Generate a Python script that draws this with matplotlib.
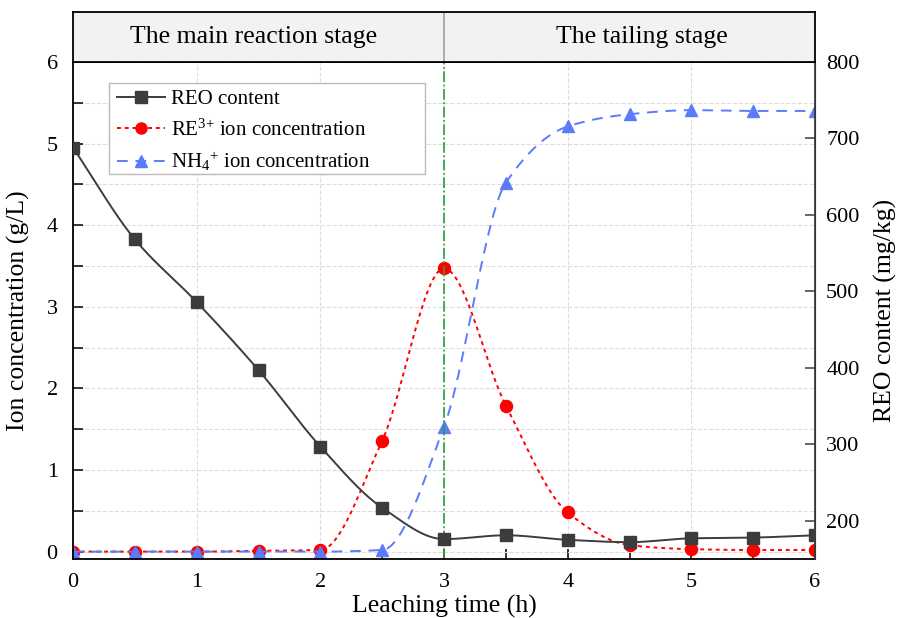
import numpy as np
import matplotlib
matplotlib.use("Agg")
import matplotlib.pyplot as plt
from matplotlib.ticker import MultipleLocator
from matplotlib.patches import Rectangle

plt.rcParams['font.family'] = ['Liberation Serif', 'DejaVu Serif']
plt.rcParams['mathtext.fontset'] = 'custom'
plt.rcParams['mathtext.rm'] = 'Liberation Serif'
plt.rcParams['mathtext.it'] = 'Liberation Serif:italic'

# data
time = [0, 0.5, 1, 1.5, 2, 2.5, 3, 3.5, 4, 4.5, 5, 5.5, 6]
reo = [688, 568, 486, 397, 297, 217, 176, 181, 175, 172, 177, 178, 181]     # mg/kg
re3 = [0, 0, 0, 0.01, 0.02, 1.36, 3.47, 1.79, 0.48, 0.08, 0.03, 0.02, 0.02]  # g/L
nh4 = [0, 0, 0, 0, 0, 0.02, 1.53, 4.52, 5.21, 5.36, 5.41, 5.40, 5.40]       # g/L
stages = ["The main reaction stage", "The tailing stage"]


def smooth(x, y, n=400):
    # monotone cubic (pchip) line through the points, like the origin spline
    x = np.asarray(x, float)
    y = np.asarray(y, float)
    h = np.diff(x)
    d = np.diff(y) / h
    m = np.zeros_like(y)
    for k in range(1, len(x) - 1):
        if d[k - 1] * d[k] > 0:
            w1 = 2 * h[k] + h[k - 1]
            w2 = h[k] + 2 * h[k - 1]
            m[k] = (w1 + w2) / (w1 / d[k - 1] + w2 / d[k])
    m[0] = d[0]
    m[-1] = d[-1]
    xs = np.linspace(x[0], x[-1], n)
    i = np.clip(np.searchsorted(x, xs) - 1, 0, len(x) - 2)
    t = (xs - x[i]) / h[i]
    h00 = 2 * t**3 - 3 * t**2 + 1
    h10 = t**3 - 2 * t**2 + t
    h01 = -2 * t**3 + 3 * t**2
    h11 = t**3 - t**2
    ys = h00 * y[i] + h10 * h[i] * m[i] + h01 * y[i + 1] + h11 * h[i] * m[i + 1]
    return xs, ys


fig = plt.figure(figsize=(9.06, 6.18), dpi=100)
ax = fig.add_axes([0.0806, 0.0955, 0.8190, 0.8042])
ax2 = ax.twinx()

red = '#ff0000'
blue = '#5a7bfb'
dark = '#3c3c3c'

xs, ys = smooth(time, re3)
ax.plot(xs, ys, color=red, ls=(0, (2, 2)), lw=1.4)
ax.plot(time, re3, 'o', color=red, ms=8.7)
xs, ys = smooth(time, nh4)
ax.plot(xs, ys, color=blue, ls=(0, (5.5, 4)), lw=1.4)
ax.plot(time, nh4, '^', color=blue, ms=9.3)
ax.axvline(3, color='#2ca02c', ls='-.', lw=1.2)

xs, ys = smooth(time, reo)
ax2.plot(xs, ys, color=dark, lw=1.4)
ax2.plot(time, reo, 's', color=dark, ms=9.3)

ax.set_xlim(0, 6)
ax.set_ylim(-0.09, 6)
ax2.set_ylim(150, 800)

ax.xaxis.set_major_locator(MultipleLocator(1))
ax.xaxis.set_minor_locator(MultipleLocator(0.5))
ax.yaxis.set_major_locator(MultipleLocator(1))
ax.yaxis.set_minor_locator(MultipleLocator(0.5))
ax2.set_yticks([200, 300, 400, 500, 600, 700, 800])

ax.tick_params(axis='both', which='both', direction='in', labelsize=16,
               width=1.1, length=7)
ax.tick_params(axis='y', which='both', right=False, pad=11)
ax.tick_params(axis='x', which='both', pad=10)
ax2.tick_params(axis='y', direction='in', labelsize=16, length=7, width=1.1,
                pad=8, color=dark)

ax.grid(True, axis='y', which='both', color='#dddddd', ls='--', lw=0.8)
ax.grid(True, axis='x', which='major', color='#dddddd', ls='--', lw=0.8)
ax.set_axisbelow(True)

for s in ['left', 'bottom', 'top']:
    ax.spines[s].set_linewidth(1.3)
    ax.spines[s].set_color('black')
ax2.spines['right'].set_linewidth(1.3)
ax2.spines['right'].set_color(dark)
for s in ['left', 'bottom', 'top']:
    ax2.spines[s].set_visible(False)

ax.set_xlabel('Leaching time (h)', fontsize=18.5, labelpad=2)
ax.set_ylabel('Ion concentration (g/L)', fontsize=18.5, labelpad=12)
ax2.set_ylabel('REO content (mg/kg)', fontsize=18.5, labelpad=10)

# legend box is wider than its text in the original, so draw the frame by hand
box = Rectangle((0.0485, 0.775), 0.4255, 0.183, transform=ax2.transAxes,
                facecolor='white', edgecolor='#bbbbbb', lw=1.0, zorder=5)
ax2.add_patch(box)
h1, = ax2.plot([], [], color=dark, lw=1.4, marker='s', ms=8)
h2, = ax2.plot([], [], color=red, ls=(0, (2, 2)), lw=1.4, marker='o', ms=8)
h3, = ax2.plot([], [], color=blue, ls=(0, (5.5, 4)), lw=1.4, marker='^', ms=8.5)
leg = ax2.legend([h1, h2, h3],
                 ['REO content', 'RE$^{3{+}}$ ion concentration',
                  'NH$_{4}$$^{{+}}$ ion concentration'],
                 loc='upper left', bbox_to_anchor=(0.0593, 0.944), fontsize=15,
                 frameon=False, handlelength=2.3, labelspacing=0.47,
                 borderpad=0, borderaxespad=0, handletextpad=0.3)
leg.set_zorder(6)

# header band with the two stage names
hd = fig.add_axes([0.0806, 0.8997, 0.8190, 0.0809])
hd.set_xlim(0, 6)
hd.set_ylim(0, 1)
hd.set_facecolor('#f2f2f2')
hd.axvline(3, color='#a0a0a0', lw=1.2)
hd.set_xticks([])
hd.set_yticks([])
for s in hd.spines.values():
    s.set_linewidth(1.3)
    s.set_color('black')
hd.text(1.46, 0.5, stages[0], ha='center', va='center', fontsize=18.5)
hd.text(4.6, 0.5, stages[1], ha='center', va='center', fontsize=18.5)

fig.savefig('out.png', dpi=100)
